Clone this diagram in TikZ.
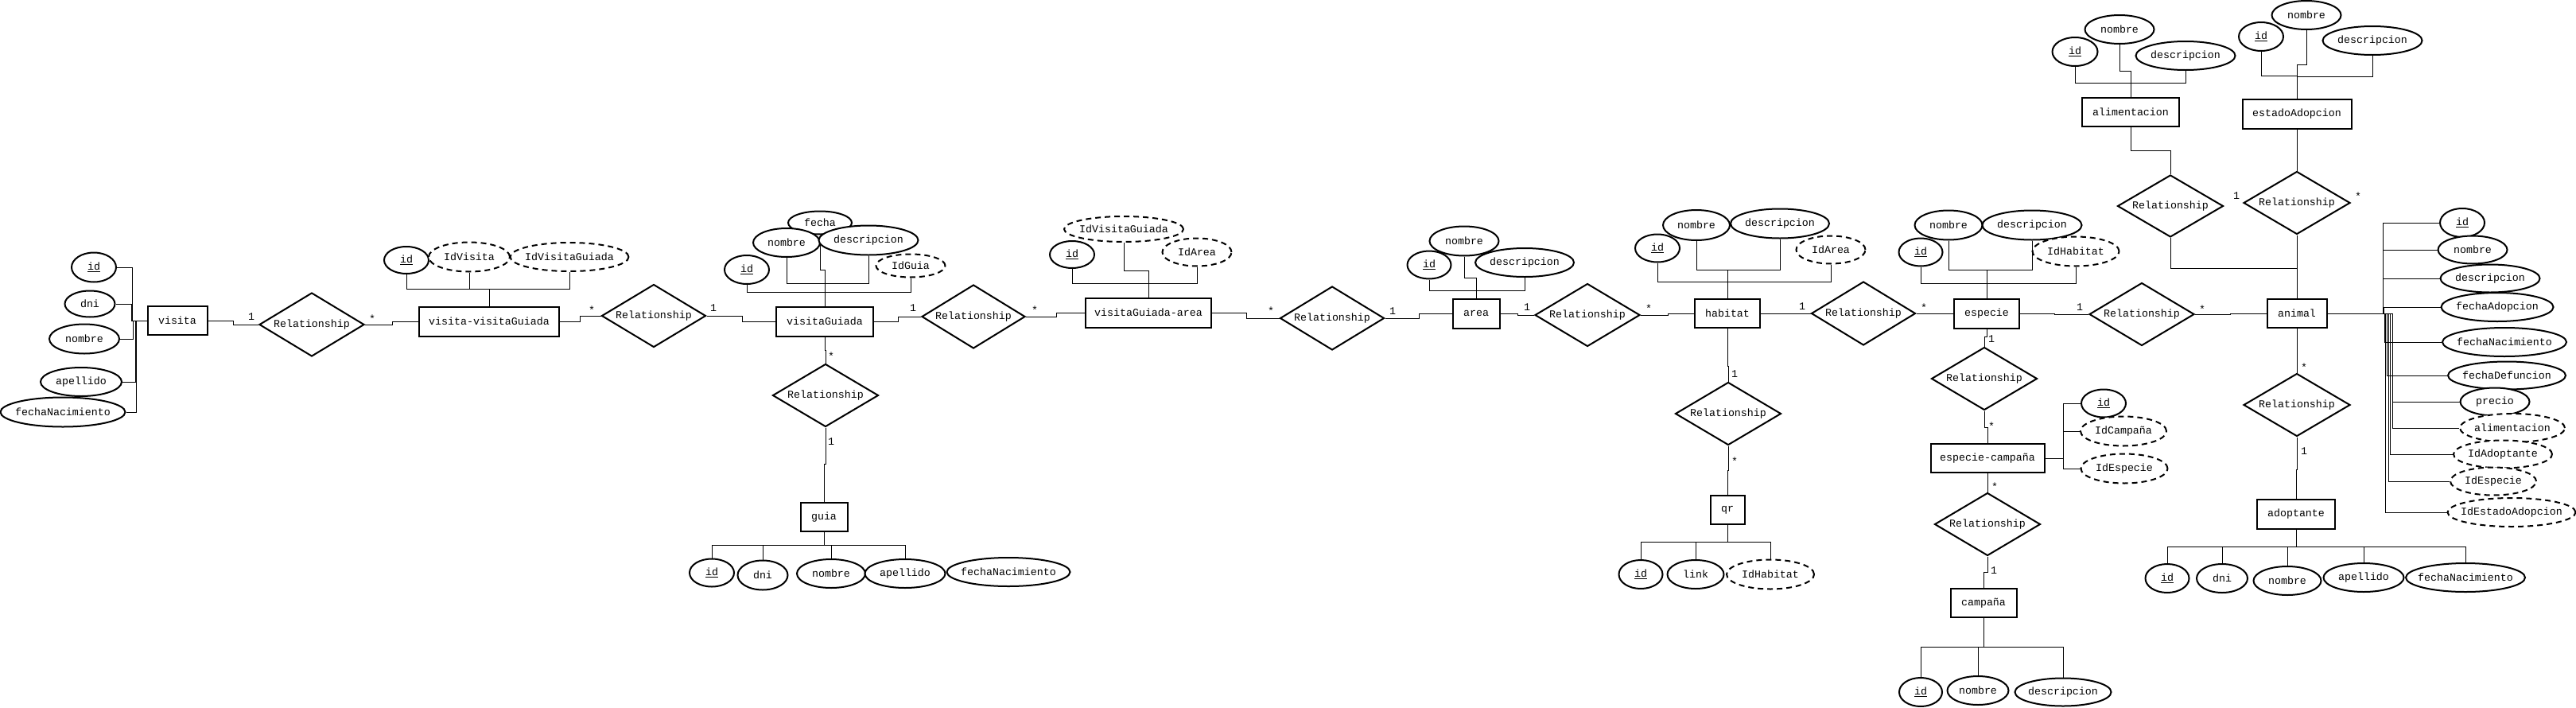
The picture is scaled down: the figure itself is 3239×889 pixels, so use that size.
\documentclass[tikz,border=0pt]{standalone}
\usepackage{fontspec}
\setmainfont{Liberation Mono}
\usetikzlibrary{shapes.geometric,calc}
\pgfdeclarelayer{bg}
\pgfsetlayers{bg,main}
\newcommand\nd[7]{\node[#1,minimum width=#5pt,minimum height=#6pt] (#2) at (#3,#4) {\makebox[0pt]{#7}};}
\newcommand\cd[4]{\node[card] (#1) at (#2,#3) {#4};}
\begin{document}
\begin{tikzpicture}[x=1pt,y=-1pt,line width=2pt,
  every node/.style={font=\fontsize{13.3}{16}\selectfont},
  ent/.style={draw,rectangle,fill=white,inner sep=0pt},
  attr/.style={draw,ellipse,fill=white,inner sep=0pt},
  wk/.style={attr,dash pattern=on 7pt off 5pt},
  rel/.style={draw,diamond,fill=white,inner sep=0pt},
  card/.style={inner sep=0pt}]
\useasboundingbox (0,0) rectangle (3239,889);
% ---------- visita
\nd{ent}{visita}{223}{403}{75}{36}{visita}
\nd{attr}{vid}{118}{336}{56}{37}{\underline{id}}
\nd{attr}{vdni}{113}{382}{63}{33}{dni}
\nd{attr}{vnom}{106}{426}{88}{37}{nombre}
\nd{attr}{vape}{102}{480}{102}{36}{apellido}
\nd{attr}{vfn}{79}{518}{157}{37}{fechaNacimiento}
\nd{rel}{r1}{392}{408}{132}{80}{Relationship}
% ---------- visita-visitaGuiada
\nd{ent}{vvg}{615}{404}{176}{37}{visita-visitaGuiada}
\nd{attr}{vvgid}{511}{327}{56}{34}{\underline{id}}
\nd{wk}{vvgidv}{590}{323}{102}{37}{IdVisita}
\nd{wk}{vvgidvg}{716}{323}{149}{36}{IdVisitaGuiada}
\nd{rel}{r2}{822}{397}{131}{79}{Relationship}
% ---------- visitaGuiada
\nd{ent}{vg}{1037}{404}{122}{37}{visitaGuiada}
\nd{attr}{vgfecha}{1031}{280}{80}{29}{fecha}
\nd{attr}{vgnom}{989}{305}{84}{36}{nombre}
\nd{attr}{vgdesc}{1092}{302}{125}{37}{descripcion}
\nd{wk}{vgidg}{1145}{334}{87}{29}{IdGuia}
\nd{attr}{vgid}{939}{339}{56}{36}{\underline{id}}
\nd{rel}{r3}{1224}{398}{130}{80}{Relationship}
\nd{rel}{rg}{1038}{497}{133}{79}{Relationship}
% ---------- guia
\nd{ent}{guia}{1036}{650}{59}{36}{guia}
\nd{attr}{gid}{895}{720}{56}{35}{\underline{id}}
\nd{attr}{gdni}{959}{723}{63}{37}{dni}
\nd{attr}{gnom}{1045}{721}{86}{36}{nombre}
\nd{attr}{gape}{1138}{721}{101}{36}{apellido}
\nd{attr}{gfn}{1268}{719}{155}{36}{fechaNacimiento}
% ---------- visitaGuiada-area
\nd{ent}{vga}{1444}{393}{158}{37}{visitaGuiada-area}
\nd{wk}{vgaidvg}{1413}{288}{150}{32}{IdVisitaGuiada}
\nd{attr}{vgaid}{1348}{320}{56}{34}{\underline{id}}
\nd{wk}{vgaidarea}{1505}{317}{87}{35}{IdArea}
\nd{rel}{r4}{1675}{400}{131}{80}{Relationship}
% ---------- area
\nd{ent}{area}{1856}{394}{59}{37}{area}
\nd{attr}{anom}{1841}{303}{87}{37}{nombre}
\nd{attr}{aid}{1797}{333}{55}{35}{\underline{id}}
\nd{attr}{adesc}{1917}{330}{124}{36}{descripcion}
\nd{rel}{r5}{1996}{396}{132}{79}{Relationship}
% ---------- habitat
\nd{ent}{hab}{2172}{394}{82}{36}{habitat}
\nd{attr}{hnom}{2133}{283}{84}{38}{nombre}
\nd{attr}{hdesc}{2238}{281}{124}{37}{descripcion}
\nd{attr}{hid}{2084}{312}{56}{35}{\underline{id}}
\nd{wk}{hidarea}{2302}{314}{87}{35}{IdArea}
\nd{rel}{r6}{2343}{394}{131}{80}{Relationship}
\nd{rel}{rqr}{2173}{520}{133}{79}{Relationship}
% ---------- qr
\nd{ent}{qr}{2172}{641}{43}{36}{qr}
\nd{attr}{qid}{2063}{722}{55}{36}{\underline{id}}
\nd{attr}{qlink}{2132}{722}{71}{36}{link}
\nd{wk}{qidh}{2226}{722}{110}{37}{IdHabitat}
% ---------- especie
\nd{ent}{esp}{2498}{394}{82}{37}{especie}
\nd{attr}{enom}{2450}{283}{85}{37}{nombre}
\nd{attr}{edesc}{2555}{283}{125}{37}{descripcion}
\nd{attr}{eid}{2415}{317}{55}{35}{\underline{id}}
\nd{wk}{eidh}{2610}{316}{109}{37}{IdHabitat}
\nd{rel}{r7}{2693}{395}{132}{79}{Relationship}
\nd{rel}{rec}{2495}{476}{133}{79}{Relationship}
% ---------- especie-campaña
\nd{ent}{ec}{2499}{576}{143}{36}{especie-campaña}
\nd{attr}{ecid}{2645}{507}{56}{35}{\underline{id}}
\nd{wk}{ecidc}{2670}{542}{108}{37}{IdCampaña}
\nd{wk}{ecide}{2671}{589}{109}{37}{IdEspecie}
\nd{rel}{rc}{2499}{659}{133}{79}{Relationship}
% ---------- campaña
\nd{ent}{camp}{2494}{758}{83}{36}{campaña}
\nd{attr}{cid}{2415}{870}{54}{36}{\underline{id}}
\nd{attr}{cnom}{2487}{868}{77}{36}{nombre}
\nd{attr}{cdesc}{2594}{870}{121}{35}{descripcion}
% ---------- alimentacion
\nd{ent}{alim}{2679}{141}{122}{36}{alimentacion}
\nd{attr}{alid}{2609}{65}{57}{36}{\underline{id}}
\nd{attr}{alnom}{2665}{37}{87}{36}{nombre}
\nd{attr}{aldesc}{2748}{70}{125}{36}{descripcion}
\nd{rel}{ralim}{2729}{259}{133}{78}{Relationship}
% ---------- estadoAdopcion
\nd{ent}{est}{2888}{143}{137}{37}{estadoAdopcion}
\nd{attr}{esid}{2843}{46}{56}{36}{\underline{id}}
\nd{attr}{esnom}{2900}{19}{87}{36}{nombre}
\nd{attr}{esdesc}{2983}{51}{125}{36}{descripcion}
\nd{rel}{rest}{2888}{255}{134}{79}{Relationship}
% ---------- animal
\nd{ent}{animal}{2888}{394}{75}{36}{animal}
\nd{attr}{anid}{3096}{280}{56}{36}{\underline{id}}
\nd{attr}{annom}{3109}{314}{87}{35}{nombre}
\nd{attr}{andesc}{3131}{350}{125}{35}{descripcion}
\nd{attr}{anfa}{3140}{386}{141}{36}{fechaAdopcion}
\nd{attr}{anfn}{3149}{430}{156}{36}{fechaNacimiento}
\nd{attr}{anfd}{3152}{472}{148}{35}{fechaDefuncion}
\nd{attr}{anpr}{3137}{505}{87}{35}{precio}
\nd{wk}{analim}{3159}{538}{132}{36}{alimentacion}
\nd{wk}{anida}{3147}{571}{124}{35}{IdAdoptante}
\nd{wk}{anide}{3135}{605}{108}{35}{IdEspecie}
\nd{wk}{anidea}{3158}{644}{161}{36}{IdEstadoAdopcion}
\nd{rel}{radopt}{2888}{509}{134}{79}{Relationship}
% ---------- adoptante
\nd{ent}{adopt}{2887}{646}{98}{37}{adoptante}
\nd{attr}{adid}{2725}{727}{55}{36}{\underline{id}}
\nd{attr}{addni}{2794}{727}{64}{36}{dni}
\nd{attr}{adnom}{2876}{730}{85}{36}{nombre}
\nd{attr}{adape}{2972}{726}{101}{36}{apellido}
\nd{attr}{adfn}{3100}{726}{150}{36}{fechaNacimiento}
% ---------- cardinalities
\cd{c1}{316}{398}{1}  \cd{c2}{468}{401}{*}
\cd{c3}{744}{390}{*}  \cd{c4}{897}{387}{1}
\cd{c5}{1148}{387}{1} \cd{c6}{1301}{390}{*}
\cd{c7}{1598}{391}{*} \cd{c8}{1751}{391}{1}
\cd{c9}{1920}{386}{1} \cd{c10}{2073}{388}{*}
\cd{c11}{2266}{385}{1} \cd{c12}{2419}{387}{*}
\cd{c13}{2615}{386}{1} \cd{c14}{2769}{389}{*}
\cd{c15}{1045}{448}{*} \cd{c16}{1045}{555}{1}
\cd{c17}{2181}{470}{1} \cd{c18}{2181}{580}{*}
\cd{c19}{2504}{426}{1} \cd{c20}{2504}{536}{*}
\cd{c21}{2508}{612}{*} \cd{c22}{2507}{717}{1}
\cd{c23}{2812}{246}{1} \cd{c24}{2965}{247}{*}
\cd{c25}{2897}{462}{*} \cd{c26}{2897}{567}{1}
% ---------- connectors
\begin{pgfonlayer}{bg}
% visita attributes
\draw (vid.east) -| (166,403) -- (visita.west);
\draw (vdni.east) -| (165,403) -- (visita.west);
\draw (vnom.east) -| (167,403) -- (visita.west);
\draw (vape.east) -| (170,403) -- (visita.west);
\draw (vfn.east) -| (171,403) -- (visita.west);
\draw (visita.east) -| (293,408) -- (r1.west);
\draw (r1.east) -| (493,404) -- (vvg.west);
% visita-visitaGuiada
\draw (vvgid.south) |- (615,363) -- (vvg.north);
\draw (vvgidv.south) |- (615,363) -- (vvg.north);
\draw (vvgidvg.south) |- (615,363) -- (vvg.north);
\draw (vvg.east) -| (729,397) -- (r2.west);
\draw (r2.east) -| (933,404) -- (vg.west);
% visitaGuiada
\draw (vgid.south) |- (1037,367) -- (vg.north);
\draw (vgidg.south) |- (1037,367) -- (vg.north);
\draw (vgnom.south) |- (1037,356) -- (vg.north);
\draw (vgdesc.south) |- (1037,356) -- (vg.north);
\draw (vgfecha.south) |- (1037,339) -- (vg.north);
\draw (vg.east) -| (1129,398) -- (r3.west);
\draw (r3.east) -| (1328,393) -- (vga.west);
\draw (vg.south) |- (1038,440) -- (rg.north);
\draw (rg.south) |- (1036,583) -- (guia.north);
% guia
\draw (gid.north) |- (1036,685) -- (guia.south);
\draw (gdni.north) |- (1036,685) -- (guia.south);
\draw (gnom.north) |- (1036,685) -- (guia.south);
\draw (gape.north) |- (1036,685) -- (guia.south);
% visitaGuiada-area
\draw (vgaid.south) |- (1444,356) -- (vga.north);
\draw (vgaidarea.south) |- (1444,356) -- (vga.north);
\draw (vgaidvg.south) |- (1444,340) -- (vga.north);
\draw (vga.east) -| (1567,400) -- (r4.west);
\draw (r4.east) -| (1784,394) -- (area.west);
% area
\draw (aid.south) |- (1856,365) -- (area.north);
\draw (adesc.south) |- (1856,365) -- (area.north);
\draw (anom.south) |- (1856,349) -- (area.north);
\draw (area.east) -| (1908,396) -- (r5.west);
\draw (r5.east) -| (2097,394) -- (hab.west);
% habitat
\draw (hid.south) |- (2172,354) -- (hab.north);
\draw (hidarea.south) |- (2172,354) -- (hab.north);
\draw (hnom.south) |- (2172,339) -- (hab.north);
\draw (hdesc.south) |- (2172,339) -- (hab.north);
\draw (hab.east) -- (r6.west);
\draw (r6.east) -- (esp.west);
\draw (hab.south) |- (2173,460) -- (rqr.north);
\draw (rqr.south) |- (2172,591) -- (qr.north);
% qr
\draw (qid.north) |- (2172,681) -- (qr.south);
\draw (qlink.north) |- (2172,681) -- (qr.south);
\draw (qidh.north) |- (2172,681) -- (qr.south);
% especie
\draw (eid.south) |- (2498,356) -- (esp.north);
\draw (eidh.south) |- (2498,356) -- (esp.north);
\draw (enom.south) |- (2498,339) -- (esp.north);
\draw (edesc.south) |- (2498,339) -- (esp.north);
\draw (esp.east) -| (2583,395) -- (r7.west);
\draw (r7.east) -| (2804,394) -- (animal.west);
\draw (esp.south) |- (2495,423) -- (rec.north);
\draw (rec.south) |- (2499,537) -- (ec.north);
% especie-campaña
\draw (ecid.west) -| (2594,576) -- (ec.east);
\draw (ecidc.west) -| (2594,576) -- (ec.east);
\draw (ecide.west) -| (2594,576) -- (ec.east);
\draw (ec.south) -- (rc.north);
\draw (rc.south) |- (2494,719) -- (camp.north);
% campaña
\draw (cid.north) |- (2494,813) -- (camp.south);
\draw (cnom.north) |- (2494,813) -- (camp.south);
\draw (cdesc.north) |- (2494,813) -- (camp.south);
% alimentacion
\draw (alid.south) |- (2679,104) -- (alim.north);
\draw (aldesc.south) |- (2679,104) -- (alim.north);
\draw (alnom.south) |- (2679,89) -- (alim.north);
\draw (alim.south) |- (2729,189) -- (ralim.north);
\draw (ralim.south) |- (2888,337) -- (animal.north);
% estadoAdopcion
\draw (esid.south) |- (2888,95) -- (est.north);
\draw (esdesc.south) |- (2888,96) -- (est.north);
\draw (esnom.south) |- (2888,81) -- (est.north);
\draw (est.south) -- (rest.north);
\draw (rest.south) -- (animal.north);
% animal
\draw (anid.west) -| (2996,394) -- (animal.east);
\draw (annom.west) -| (2996,394) -- (animal.east);
\draw (andesc.west) -| (2996,394) -- (animal.east);
\draw (anfa.west) -| (2997,394) -- (animal.east);
\draw (anfn.west) -| (2998,394) -- (animal.east);
\draw (anfd.west) -| (3001,394) -- (animal.east);
\draw (anpr.west) -| (3008,394) -- (animal.east);
\draw (analim.west) -| (3008,394) -- (animal.east);
\draw (anida.west) -| (3005,394) -- (animal.east);
\draw (anide.west) -| (3003,394) -- (animal.east);
\draw (anidea.west) -| (2999,394) -- (animal.east);
\draw (animal.south) -- (radopt.north);
\draw (radopt.south) |- (2887,590) -- (adopt.north);
% adoptante
\draw (adid.north) |- (2887,687) -- (adopt.south);
\draw (addni.north) |- (2887,687) -- (adopt.south);
\draw (adnom.north) |- (2887,687) -- (adopt.south);
\draw (adape.north) |- (2887,687) -- (adopt.south);
\draw (adfn.north) |- (2887,687) -- (adopt.south);
\end{pgfonlayer}
\end{tikzpicture}
\end{document}
